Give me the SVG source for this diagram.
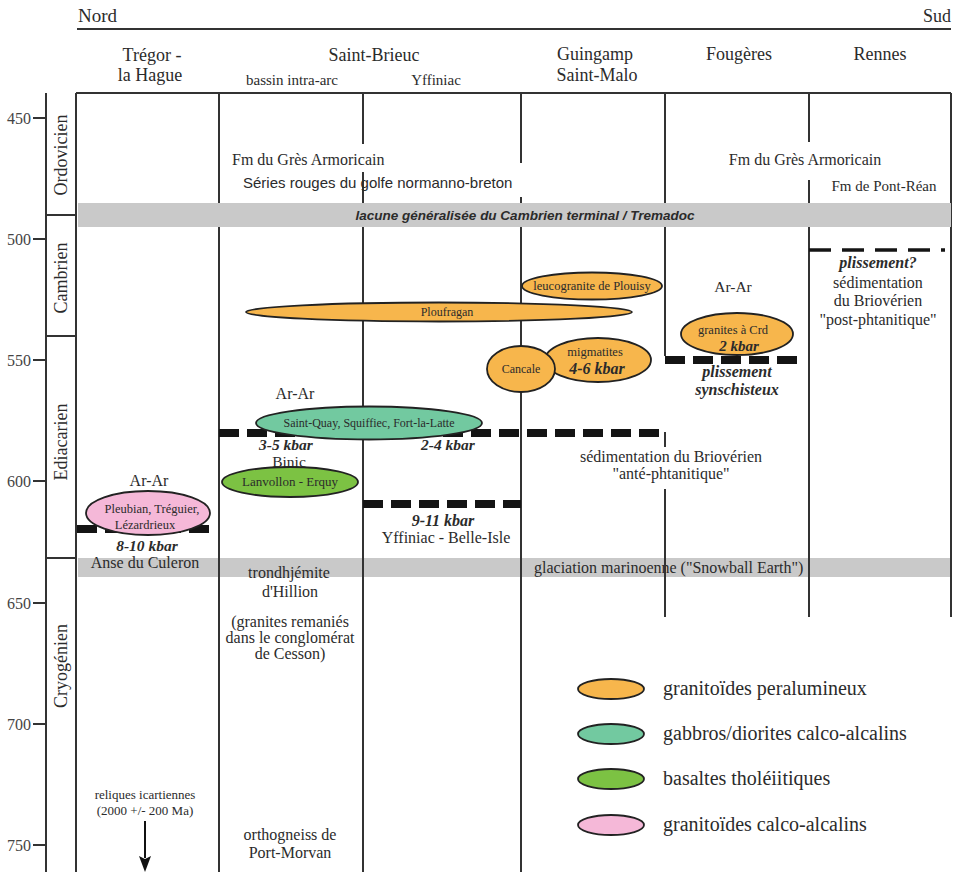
<svg xmlns="http://www.w3.org/2000/svg" width="957" height="872" viewBox="0 0 957 872">
<defs>
<style>
.s{font-family:"Liberation Serif","Times New Roman",serif;fill:#2b2b2b}
.a{font-family:"Liberation Sans",Arial,sans-serif;fill:#2b2b2b}
.bi{font-weight:bold;font-style:italic}
.c{text-anchor:middle}
.ln{stroke:#333;stroke-width:2;fill:none}
.dash{stroke:#141414;stroke-width:8;stroke-dasharray:20 8;fill:none}
.band{fill:#c9c9c9}
.or{fill:#f7b64c;stroke:#222;stroke-width:1.8}
.te{fill:#72c9a0;stroke:#222;stroke-width:1.8}
.gr{fill:#7cc243;stroke:#222;stroke-width:1.8}
.pk{fill:#f5b8d8;stroke:#222;stroke-width:1.8}
</style>
</defs>
<rect width="957" height="872" fill="#fff"/>

<!-- header -->
<g id="header">
<text class="s" x="78" y="22" font-size="19">Nord</text>
<text class="s" x="951" y="22" font-size="18" text-anchor="end">Sud</text>
<line class="ln" x1="77" y1="29" x2="951" y2="29"/>
<text class="s c" x="152" y="61" font-size="18">Trégor -</text>
<text class="s c" x="150" y="81" font-size="18">la Hague</text>
<text class="s c" x="374" y="61" font-size="18">Saint-Brieuc</text>
<text class="s c" x="292" y="85" font-size="15">bassin intra-arc</text>
<text class="s c" x="436" y="85" font-size="15">Yffiniac</text>
<text class="s c" x="595" y="60" font-size="18">Guingamp</text>
<text class="s c" x="597" y="81" font-size="18">Saint-Malo</text>
<text class="s c" x="739" y="60" font-size="18">Fougères</text>
<text class="s c" x="880" y="60" font-size="18">Rennes</text>
</g>

<!-- time axis -->
<g id="axis">
<line class="ln" x1="46" y1="93" x2="46" y2="872"/>
<g class="ln">
<line x1="33" y1="118" x2="46" y2="118"/>
<line x1="33" y1="239" x2="46" y2="239"/>
<line x1="33" y1="360" x2="46" y2="360"/>
<line x1="33" y1="481" x2="46" y2="481"/>
<line x1="33" y1="603" x2="46" y2="603"/>
<line x1="33" y1="724" x2="46" y2="724"/>
<line x1="33" y1="845" x2="46" y2="845"/>
<line x1="46" y1="215" x2="76" y2="215"/>
<line x1="46" y1="336" x2="76" y2="336"/>
<line x1="46" y1="558" x2="76" y2="558"/>
</g>
<g class="s" font-size="16" text-anchor="end" style="fill:#444">
<text x="31" y="124">450</text>
<text x="31" y="245">500</text>
<text x="31" y="366">550</text>
<text x="31" y="487">600</text>
<text x="31" y="609">650</text>
<text x="31" y="730">700</text>
<text x="31" y="851">750</text>
</g>
<g class="s c" font-size="18">
<text transform="translate(67,155) rotate(-90)">Ordovicien</text>
<text transform="translate(67,278) rotate(-90)">Cambrien</text>
<text transform="translate(67,442) rotate(-90)">Ediacarien</text>
<text transform="translate(67,666) rotate(-90)">Cryogénien</text>
</g>
</g>

<!-- glaciation band (under column lines) -->
<g id="glaciation">
<rect class="band" x="78" y="558" width="873" height="19"/>
<text class="s" x="534" y="573" font-size="16">glaciation marinoenne ("Snowball Earth")</text>
</g>

<!-- grid -->
<g id="grid" class="ln">
<line x1="76" y1="93" x2="951" y2="93"/>
<line x1="76" y1="93" x2="76" y2="872"/>
<line x1="219" y1="93" x2="219" y2="872"/>
<line x1="363" y1="93" x2="363" y2="144"/>
<line x1="363" y1="172" x2="363" y2="872"/>
<line x1="521" y1="93" x2="521" y2="163"/>
<line x1="521" y1="197" x2="521" y2="872"/>
<line x1="665" y1="93" x2="665" y2="356"/>
<line x1="665" y1="432" x2="665" y2="447"/>
<line x1="665" y1="489" x2="665" y2="617"/>
<line x1="809" y1="93" x2="809" y2="142"/>
<line x1="809" y1="180" x2="809" y2="617"/>
<line x1="951" y1="93" x2="951" y2="617"/>
</g>

<!-- lacune band -->
<g id="lacune">
<rect class="band" x="78" y="203" width="873" height="24"/>
<text class="a bi c" x="525" y="220" font-size="13.5">lacune généralisée du Cambrien terminal / Tremadoc</text>
</g>

<!-- formations texts -->
<g id="ordovicien-texts">
<text class="s" x="232" y="165" font-size="16">Fm du Grès Armoricain</text>
<text class="a" x="243" y="188" font-size="15">Séries rouges du golfe normanno-breton</text>
<text class="s c" x="805" y="165" font-size="16">Fm du Grès Armoricain</text>
<text class="s c" x="884" y="191" font-size="15">Fm de Pont-Réan</text>
</g>

<!-- dashed lines (plissements / metamorphism) and arrow -->
<g id="connectors">
<line class="dash" x1="219" y1="433" x2="665" y2="433"/>
<line class="dash" x1="363" y1="504" x2="521" y2="504"/>
<line class="dash" x1="77" y1="529" x2="210" y2="529"/>
<line class="dash" x1="665" y1="360" x2="804" y2="360"/>
<line x1="809" y1="250" x2="945" y2="250" stroke="#141414" stroke-width="3.5" stroke-dasharray="22 11"/>
<line x1="145" y1="821" x2="145" y2="858" stroke="#111" stroke-width="2"/>
<path d="M139,856 L145,872 L151,856 L145,859 Z" fill="#111"/>
</g>

<!-- Rennes -->
<g id="rennes">
<text class="s bi c" x="878" y="268" font-size="16">plissement?</text>
<text class="s c" x="878" y="288" font-size="16">sédimentation</text>
<text class="s c" x="878" y="306" font-size="16">du Briovérien</text>
<text class="s c" x="878" y="325" font-size="16">"post-phtanitique"</text>
</g>

<!-- Fougeres -->
<g id="fougeres">
<text class="s c" x="733" y="292" font-size="15.5">Ar-Ar</text>
<ellipse class="or" cx="737" cy="334" rx="56" ry="21"/>
<text class="s c" x="733" y="334" font-size="12.5">granites à Crd</text>
<text class="s bi c" x="739" y="351" font-size="15">2 kbar</text>
<text class="s bi c" x="737" y="377" font-size="16">plissement</text>
<text class="s bi c" x="737" y="395" font-size="16">synschisteux</text>
</g>

<!-- Guingamp -->
<g id="guingamp">
<text class="s c" x="671" y="462" font-size="16">sédimentation du Briovérien</text>
<text class="s c" x="671" y="479" font-size="16">"anté-phtanitique"</text>
</g>

<g id="ploufragan">
<ellipse class="or" cx="439" cy="312" rx="193" ry="9.5"/>
<text class="s c" x="447" y="316" font-size="12">Ploufragan</text>
</g>
<g id="plouisy">
<ellipse class="or" cx="592" cy="286" rx="70" ry="13.5"/>
<text class="s c" x="592" y="290" font-size="12.5">leucogranite de Plouisy</text>
</g>
<g id="migmatites">
<ellipse class="or" cx="598" cy="360" rx="53" ry="22"/>
<text class="s c" x="595" y="356" font-size="12.5">migmatites</text>
<text class="s bi c" x="597" y="374" font-size="16">4-6 kbar</text>
</g>
<g id="cancale">
<ellipse class="or" cx="521" cy="369" rx="34" ry="23"/>
<text class="s c" x="521" y="373" font-size="12">Cancale</text>
</g>

<!-- Saint-Brieuc -->
<g id="saint-quay">
<text class="s c" x="295" y="399" font-size="16">Ar-Ar</text>
<ellipse class="te" cx="369" cy="423" rx="113" ry="16.5"/>
<text class="s c" x="369" y="427" font-size="12">Saint-Quay, Squiffiec, Fort-la-Latte</text>
<text class="s bi c" x="286" y="450" font-size="15.5">3-5 kbar</text>
<text class="s bi c" x="448" y="450" font-size="15.5">2-4 kbar</text>
<text class="s c" x="289" y="467" font-size="15.5">Binic</text>
</g>
<g id="lanvollon">
<ellipse class="gr" cx="290" cy="482" rx="68" ry="15"/>
<text class="s c" x="290" y="486" font-size="13">Lanvollon - Erquy</text>
</g>
<g id="yffiniac">
<text class="s bi c" x="443" y="526" font-size="16">9-11 kbar</text>
<text class="s c" x="446" y="543" font-size="16">Yffiniac - Belle-Isle</text>
</g>
<g id="hillion">
<text class="s c" x="289" y="578" font-size="16">trondhjémite</text>
<text class="s c" x="290" y="597" font-size="16">d'Hillion</text>
<text class="s c" x="290" y="627" font-size="16">(granites remaniés</text>
<text class="s c" x="290" y="643" font-size="16">dans le conglomérat</text>
<text class="s c" x="290" y="659" font-size="16">de Cesson)</text>
</g>
<g id="port-morvan">
<text class="s c" x="290" y="840" font-size="16">orthogneiss de</text>
<text class="s c" x="290" y="858" font-size="16">Port-Morvan</text>
</g>

<!-- Tregor -->
<g id="pleubian">
<text class="s c" x="149" y="486" font-size="16">Ar-Ar</text>
<ellipse class="pk" cx="148" cy="513" rx="62" ry="22"/>
<text class="s c" x="152" y="513" font-size="12.5">Pleubian,  Tréguier,</text>
<text class="s c" x="145" y="529" font-size="12.5">Lézardrieux</text>
<text class="s bi c" x="147" y="551" font-size="15.5">8-10 kbar</text>
<text class="s c" x="145" y="568" font-size="16">Anse du Culeron</text>
</g>
<g id="icartien">
<text class="s c" x="145" y="799" font-size="13">reliques icartiennes</text>
<text class="s c" x="145" y="815" font-size="13">(2000 +/- 200 Ma)</text>
</g>

<!-- legend -->
<g id="legend">
<ellipse class="or" cx="611" cy="689" rx="33" ry="10"/>
<text class="s" x="663" y="695" font-size="20">granitoïdes peralumineux</text>
<ellipse class="te" cx="611" cy="734" rx="33" ry="10"/>
<text class="s" x="663" y="740" font-size="20">gabbros/diorites calco-alcalins</text>
<ellipse class="gr" cx="611" cy="779" rx="33" ry="10"/>
<text class="s" x="663" y="785" font-size="20">basaltes tholéiitiques</text>
<ellipse class="pk" cx="611" cy="825" rx="33" ry="10"/>
<text class="s" x="663" y="831" font-size="20">granitoïdes calco-alcalins</text>
</g>
</svg>
